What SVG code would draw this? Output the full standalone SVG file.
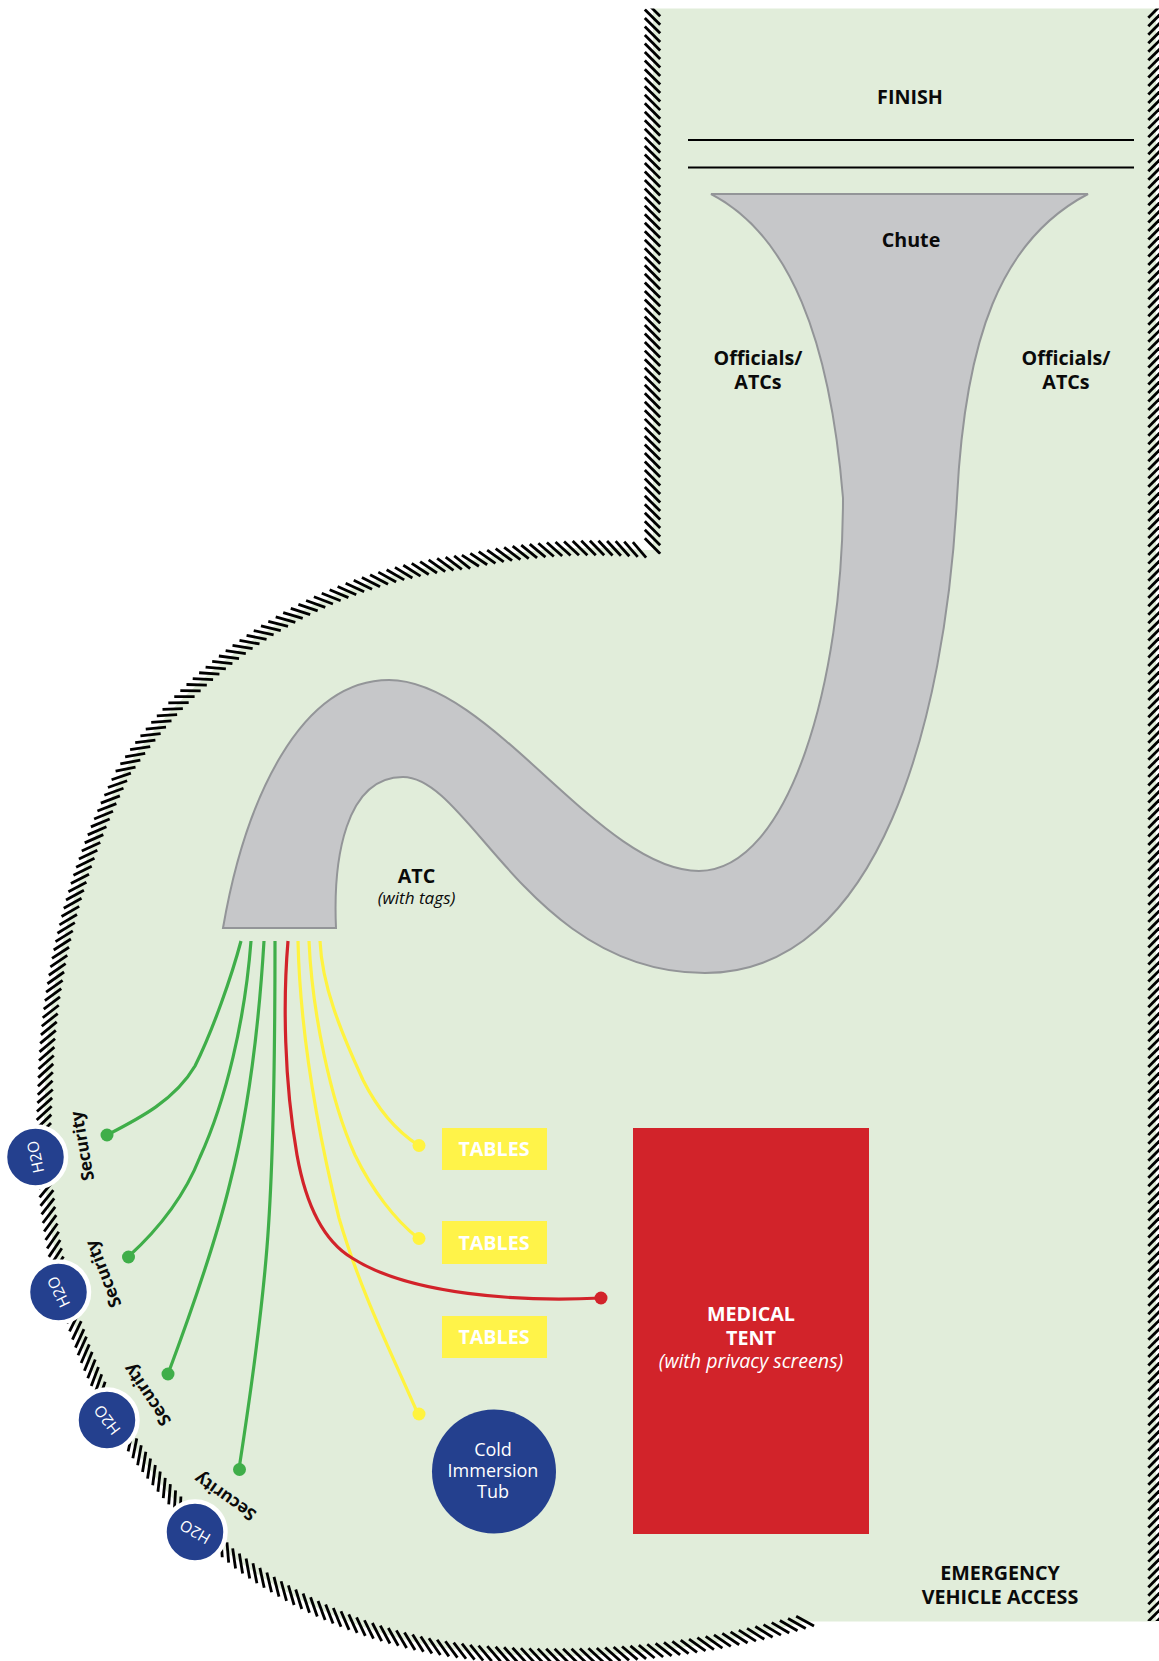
<svg xmlns="http://www.w3.org/2000/svg" width="1159" height="1661" viewBox="0 0 1159 1661">
<style>
text{font-family:"Open Sans","Noto Sans","Liberation Sans",sans-serif;text-anchor:middle}
.b{font-size:19.700px;font-weight:700;fill:#0a0a0a}
.i{font-style:italic;font-weight:400}
.w{fill:#fff}
.s{font-size:17.300px;font-weight:700;fill:#0a0a0a}
.h{font-size:15.500px;font-weight:400;fill:#fff}
.road{fill:#c6c7c9;stroke:#939598;stroke-width:2}
.wire{fill:none;stroke-width:3.200}
.g{stroke:#3fae49}.r{stroke:#d2232a}.y{stroke:#fff33f}
.gd{fill:#3fae49}.rd{fill:#d2232a}.yd{fill:#fff33f}
.hatch{stroke:#000;stroke-width:2.800}
.tb{fill:#fff349}
.wc{fill:#24408e;stroke:#fff;stroke-width:4.500}
</style>
<defs>
<clipPath id="cl"><rect x="630" y="8.500" width="40" height="546"/></clipPath>
<clipPath id="cr"><rect x="1140" y="8.500" width="30" height="1612.500"/></clipPath>
<g id="v2"><line id="v1" x1="-7.700" y1="-7.700" x2="7.700" y2="7.700"/><use href="#v1" y="8.530"/></g>
<g id="v4"><use href="#v2"/><use href="#v2" y="17.060"/></g>
<g id="v8"><use href="#v4"/><use href="#v4" y="34.120"/></g>
<g id="v16"><use href="#v8"/><use href="#v8" y="68.240"/></g>
<g id="v32"><use href="#v16"/><use href="#v16" y="136.480"/></g>
<g id="v64"><use href="#v32"/><use href="#v32" y="272.960"/></g>

<g id="a2"><line id="a1" x1="-907.200" y1="7.200" x2="-892.800" y2="-7.200"/><use href="#a1" transform="rotate(.541)"/></g>
<g id="a4"><use href="#a2"/><use href="#a2" transform="rotate(1.082)"/></g>
<g id="a8"><use href="#a4"/><use href="#a4" transform="rotate(2.164)"/></g>
<g id="a16"><use href="#a8"/><use href="#a8" transform="rotate(4.328)"/></g>
<g id="a32"><use href="#a16"/><use href="#a16" transform="rotate(8.656)"/></g>

<g id="b2"><line id="b1" x1="-492.200" y1="7.200" x2="-477.800" y2="-7.200"/><use href="#b1" transform="rotate(1.004)"/></g>
<g id="b4"><use href="#b2"/><use href="#b2" transform="rotate(2.008)"/></g>
<g id="b8"><use href="#b4"/><use href="#b4" transform="rotate(4.016)"/></g>
<g id="b16"><use href="#b8"/><use href="#b8" transform="rotate(8.032)"/></g>
<g id="b32"><use href="#b16"/><use href="#b16" transform="rotate(16.064)"/></g>

<g id="c2"><line id="c1" x1="-507.900" y1="7.200" x2="-493.500" y2="-7.200"/><use href="#c1" transform="rotate(.9427)"/></g>
<g id="c4"><use href="#c2"/><use href="#c2" transform="rotate(1.8854)"/></g>
<g id="c8"><use href="#c4"/><use href="#c4" transform="rotate(3.7708)"/></g>
<g id="c16"><use href="#c8"/><use href="#c8" transform="rotate(7.5416)"/></g>
<g id="c32"><use href="#c16"/><use href="#c16" transform="rotate(15.0832)"/></g>

<g id="d2"><line id="d1" x1="-592.200" y1="7.200" x2="-577.800" y2="-7.200"/><use href="#d1" transform="rotate(.8325)"/></g>
<g id="d4"><use href="#d2"/><use href="#d2" transform="rotate(1.665)"/></g>
<g id="d8"><use href="#d4"/><use href="#d4" transform="rotate(3.330)"/></g>
<g id="d16"><use href="#d8"/><use href="#d8" transform="rotate(6.660)"/></g>

<g id="e2"><line id="e1" x1="-746.800" y1="7.200" x2="-732.400" y2="-7.200"/><use href="#e1" transform="rotate(.6585)"/></g>
<g id="e4"><use href="#e2"/><use href="#e2" transform="rotate(1.317)"/></g>
<g id="e8"><use href="#e4"/><use href="#e4" transform="rotate(2.634)"/></g>
<g id="e16"><use href="#e8"/><use href="#e8" transform="rotate(5.268)"/></g>
<g id="e32"><use href="#e16"/><use href="#e16" transform="rotate(10.536)"/></g>

<g id="f2"><line id="f1" x1="-473.400" y1="7.200" x2="-459" y2="-7.200"/><use href="#f1" transform="rotate(1.0447)"/></g>
<g id="f4"><use href="#f2"/><use href="#f2" transform="rotate(2.0894)"/></g>
<g id="f8"><use href="#f4"/><use href="#f4" transform="rotate(4.1788)"/></g>
<g id="f16"><use href="#f8"/><use href="#f8" transform="rotate(8.3576)"/></g>
<g id="f32"><use href="#f16"/><use href="#f16" transform="rotate(16.7152)"/></g>

<g id="k2"><line id="k1" x1="-604.200" y1="7.200" x2="-589.800" y2="-7.200"/><use href="#k1" transform="rotate(.8158)"/></g>
<g id="k4"><use href="#k2"/><use href="#k2" transform="rotate(1.6316)"/></g>
<g id="k8"><use href="#k4"/><use href="#k4" transform="rotate(3.2632)"/></g>
<g id="k16"><use href="#k8"/><use href="#k8" transform="rotate(6.5264)"/></g>
</defs>

<path id="ground" fill="#e1edda" d="M653,8.500H1156V1621.500H805A900,900 0 0 1 487,1653A485,485 0 0 1 233,1557A500.700,500.700 0 0 1 82,1345A585,585 0 0 1 45,1097A739.600,739.600 0 0 1 123,773A466.200,466.200 0 0 1 463,562A597,597 0 0 1 645,550H653Z"/>

<g id="fence" class="hatch">
<g clip-path="url(#cl)"><use href="#v64" transform="translate(652.500,8.600)"/></g>
<g clip-path="url(#cr)">
<g transform="translate(1156,10) scale(-1,1)"><use href="#v64"/><use href="#v64" y="545.920"/><use href="#v64" y="1091.840"/></g>
</g>
<g transform="translate(557,756) rotate(-106)"><use href="#a32"/><use href="#a4" transform="rotate(17.312)"/><use href="#a2" transform="rotate(19.476)"/></g>
<g transform="translate(524.500,1170) rotate(-85.350)"><use href="#b32"/><use href="#b1" transform="rotate(32.128)"/></g>
<g transform="translate(551,1170) rotate(-49.800)"><use href="#c32"/></g>
<g transform="translate(628.700,1136.400) rotate(-20.200)"><use href="#d16"/><use href="#d8" transform="rotate(13.320)"/><use href="#d4" transform="rotate(19.980)"/><use href="#d2" transform="rotate(23.310)"/></g>
<g transform="translate(784.600,1103.500) rotate(1.220)"><use href="#e32"/><use href="#e4" transform="rotate(21.072)"/><use href="#e2" transform="rotate(23.706)"/><use href="#e1" transform="rotate(25.023)"/></g>
<g transform="translate(515,1025.400) rotate(33.350)"><use href="#f32"/><use href="#f16" transform="rotate(33.430)"/><use href="#f1" transform="rotate(50.146)"/></g>
<g transform="translate(593,1145) rotate(78.150)"><use href="#k16"/><use href="#k4" transform="rotate(13.050)"/><use href="#k1" transform="rotate(16.316)"/></g>
</g>

<g id="finish">
<text class="b" x="910" y="104">FINISH</text>
<path d="M688,140H1134M688,167.500H1134" stroke="#000" stroke-width="2.200" fill="none"/>
</g>

<g id="chute">
<path class="road" d="M711,194H1088C1000,240 965,340 957,498C945,720 880,973 705,973C530,973 470,777 403,777C345,777 333,860 336,928H223C245,800 300,680 389,680C490,680 600,871 699,871C790,870 843,680 843,498C830,340 790,235 711,194Z"/>
<text class="b" x="911" y="247">Chute</text>
</g>

<g id="officials-left"><text class="b" x="758" y="365">Officials/</text><text class="b" x="758" y="389">ATCs</text></g>
<g id="officials-right"><text class="b" x="1066" y="365">Officials/</text><text class="b" x="1066" y="389">ATCs</text></g>
<g id="atc"><text class="b" x="416.500" y="883">ATC</text><text class="b i" style="font-size:17.100px" x="416.500" y="904">(with tags)</text></g>

<g id="connectors">
<path class="wire g" d="M241,941C232,975 213,1030 195,1066C175,1100 140,1118 107,1135"/>
<path class="wire g" d="M251,941C245,1020 226,1100 200,1157C185,1195 160,1228 128,1257"/>
<path class="wire g" d="M264,941C258,1040 245,1125 230,1183C215,1245 190,1315 168,1374"/>
<path class="wire g" d="M275,941C275,1050 274,1160 267,1247C262,1310 252,1385 239,1469"/>
<path class="wire y" d="M298,941C300,1030 315,1120 339,1218C360,1290 390,1350 418,1414"/>
<path class="wire y" d="M309,941C312,1010 330,1100 355,1155C372,1190 395,1220 418,1238"/>
<path class="wire y" d="M320,941C322,985 340,1030 363,1080C378,1110 395,1130 418,1145"/>
<path class="wire r" d="M288,941C283,1000 284,1080 297,1155C305,1200 322,1240 352,1258C410,1295 520,1302 601,1298"/>
<circle class="gd" cx="107" cy="1135" r="6.500"/>
<circle class="gd" cx="128.500" cy="1257" r="6.500"/>
<circle class="gd" cx="168" cy="1374" r="6.500"/>
<circle class="gd" cx="239.500" cy="1469.500" r="6.500"/>
<circle class="yd" cx="419" cy="1145.500" r="6.500"/>
<circle class="yd" cx="419" cy="1238.500" r="6.500"/>
<circle class="yd" cx="419" cy="1414" r="6.500"/>
<circle class="rd" cx="601" cy="1298" r="6.500"/>
</g>

<g id="tables-1"><rect class="tb" x="442" y="1128" width="105" height="42"/><text class="b w" x="494" y="1156">TABLES</text></g>
<g id="tables-2"><rect class="tb" x="442" y="1221" width="105" height="43"/><text class="b w" x="494" y="1250">TABLES</text></g>
<g id="tables-3"><rect class="tb" x="442" y="1316" width="105" height="42"/><text class="b w" x="494" y="1344">TABLES</text></g>

<g id="medical-tent">
<rect x="633" y="1128" width="236" height="406" fill="#d2232a"/>
<text class="b w" x="751" y="1321">MEDICAL</text>
<text class="b w" x="751" y="1345">TENT</text>
<text class="b w i" style="font-size:19.600px" x="751" y="1368">(with privacy screens)</text>
</g>

<g id="cold-tub">
<circle cx="494" cy="1471.500" r="62" fill="#24408e"/>
<text class="w" style="font-size:18px;font-weight:500" x="493" y="1456">Cold</text>
<text class="w" style="font-size:18px;font-weight:500" x="493" y="1477">Immersion</text>
<text class="w" style="font-size:18px;font-weight:500" x="493" y="1498">Tub</text>
</g>

<g id="emergency"><text class="b" x="1000" y="1580">EMERGENCY</text><text class="b" x="1000" y="1604">VEHICLE ACCESS</text></g>

<g id="water-1"><circle class="wc" cx="35.500" cy="1157" r="30.500"/><text class="h" transform="translate(35.500,1157) rotate(-102)" dy=".36em">H2O</text></g>
<g id="water-2"><circle class="wc" cx="58.500" cy="1292" r="30.500"/><text class="h" transform="translate(58.500,1292) rotate(-116)" dy=".36em">H2O</text></g>
<g id="water-3"><circle class="wc" cx="107" cy="1420" r="30.500"/><text class="h" transform="translate(107,1420) rotate(-127)" dy=".36em">H2O</text></g>
<g id="water-4"><circle class="wc" cx="195" cy="1532" r="30.500"/><text class="h" transform="translate(195,1532) rotate(-150)" dy=".36em">H2O</text></g>

<g id="security-1"><text class="s" transform="translate(82,1146) rotate(-100)" dy=".36em">Security</text></g>
<g id="security-2"><text class="s" transform="translate(103,1274) rotate(-111.500)" dy=".36em">Security</text></g>
<g id="security-3"><text class="s" transform="translate(147,1395) rotate(-124)" dy=".36em">Security</text></g>
<g id="security-4"><text class="s" transform="translate(225,1497) rotate(-145)" dy=".36em">Security</text></g>
</svg>
